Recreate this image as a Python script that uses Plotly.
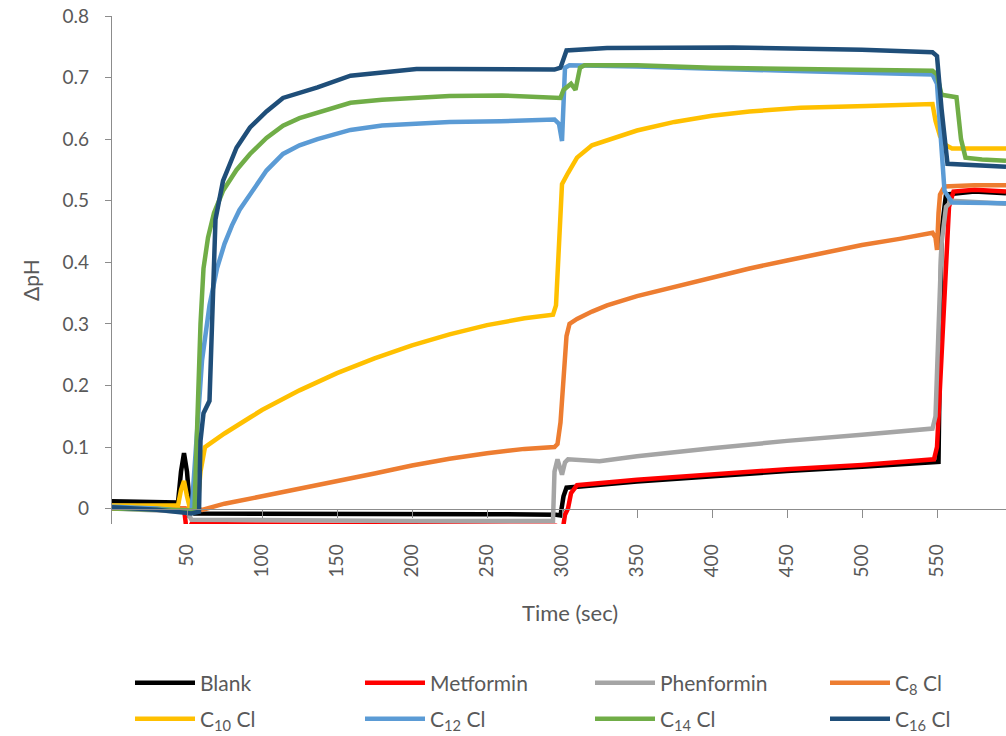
import plotly.graph_objects as go

# Time (s) and change in pH for each compound
blank_t = [0, 20, 44, 46, 48, 50, 52, 55, 100, 150, 200, 250, 296, 299, 301, 303, 350, 400, 450, 500, 550, 551, 553, 556, 575, 596]
blank_v = [0.012, 0.011, 0.010, 0.06, 0.09, 0.06, 0.0, -0.008, -0.008, -0.009, -0.008, -0.009, -0.010, -0.011, 0.02, 0.034, 0.044, 0.053, 0.061, 0.068, 0.076, 0.076, 0.45, 0.51, 0.515, 0.512]

metformin_t = [0, 48, 49, 50, 51, 53, 100, 200, 296, 299, 300, 302, 304, 306, 310, 350, 400, 450, 500, 548, 550, 553, 556, 558, 561, 575, 596]
metformin_v = [0.0, 0.0, -0.02, -0.045, -0.035, -0.025, -0.026, -0.027, -0.028, -0.03, -0.042, -0.01, 0.0, 0.025, 0.038, 0.047, 0.056, 0.064, 0.071, 0.08, 0.1, 0.25, 0.42, 0.49, 0.515, 0.518, 0.515]

phenformin_t = [0, 50, 53, 100, 200, 294, 295, 297, 299, 300, 302, 304, 325, 350, 400, 450, 500, 547, 549, 551, 553, 556, 560, 575, 596]
phenformin_v = [0.0, -0.005, -0.018, -0.019, -0.02, -0.02, 0.06, 0.08, 0.06, 0.055, 0.075, 0.08, 0.077, 0.085, 0.098, 0.11, 0.12, 0.13, 0.15, 0.3, 0.43, 0.49, 0.5, 0.498, 0.495]

c8_t = [0, 55, 60, 75, 100, 125, 150, 175, 200, 225, 250, 275, 295, 297, 299, 301, 303, 305, 310, 320, 330, 350, 375, 400, 425, 450, 475, 500, 525, 547, 549, 550, 551, 552, 555, 575, 596]
c8_v = [0.0, 0.0, -0.002, 0.008, 0.02, 0.032, 0.045, 0.057, 0.07, 0.081, 0.09, 0.097, 0.1, 0.105, 0.14, 0.22, 0.28, 0.3, 0.308, 0.32, 0.33, 0.345, 0.36, 0.375, 0.39, 0.403, 0.416, 0.428, 0.438, 0.448, 0.44, 0.42, 0.48, 0.51, 0.523, 0.525, 0.525]

c10_t = [0, 44, 46, 48, 50, 52, 57, 59, 62, 75, 92, 100, 125, 150, 175, 200, 225, 250, 275, 294, 296, 298, 300, 304, 310, 320, 338, 350, 375, 400, 425, 459, 503, 525, 547, 549, 552, 556, 560, 575, 596]
c10_v = [0.005, 0.005, 0.03, 0.045, 0.02, 0.0, 0.0, 0.06, 0.1, 0.122, 0.148, 0.16, 0.192, 0.22, 0.244, 0.265, 0.283, 0.298, 0.309, 0.315, 0.33, 0.45, 0.527, 0.545, 0.57, 0.59, 0.605, 0.614, 0.628, 0.638, 0.645, 0.651, 0.654, 0.656, 0.657, 0.63, 0.605, 0.59, 0.585, 0.585, 0.585]

c12_t = [0, 30, 53, 56, 60, 65, 70, 75, 80, 85, 92, 103, 114, 125, 137, 159, 180, 203, 225, 259, 295, 298, 300, 302, 305, 350, 400, 450, 500, 547, 550, 553, 555, 560, 575, 596]
c12_v = [0.003, 0.0, -0.005, 0.1, 0.24, 0.33, 0.39, 0.43, 0.46, 0.485, 0.511, 0.549, 0.576, 0.59, 0.60, 0.615, 0.622, 0.625, 0.628, 0.629, 0.632, 0.625, 0.597, 0.716, 0.72, 0.718, 0.714, 0.711, 0.708, 0.705, 0.69, 0.58, 0.516, 0.497, 0.497, 0.496]

c14_t = [0, 55, 57, 59, 61, 64, 68, 74, 83, 92, 103, 114, 125, 137, 159, 180, 203, 225, 260, 299, 301, 306, 309, 312, 315, 350, 400, 450, 500, 547, 550, 553, 563, 566, 569, 580, 596]
c14_v = [0.0, -0.003, 0.15, 0.3, 0.39, 0.44, 0.48, 0.516, 0.55, 0.576, 0.602, 0.622, 0.634, 0.643, 0.659, 0.664, 0.667, 0.67, 0.671, 0.667, 0.68, 0.69, 0.68, 0.716, 0.72, 0.72, 0.716, 0.714, 0.712, 0.711, 0.705, 0.672, 0.668, 0.6, 0.57, 0.567, 0.565]

c16_t = [0, 30, 53, 58, 59, 61, 65, 67, 69, 74, 83, 92, 103, 114, 137, 159, 180, 203, 225, 259, 295, 299, 303, 330, 414, 500, 547, 550, 553, 557, 575, 596]
c16_v = [0.002, -0.002, -0.008, -0.005, 0.11, 0.155, 0.175, 0.34, 0.47, 0.532, 0.586, 0.619, 0.645, 0.667, 0.684, 0.703, 0.709, 0.714, 0.714, 0.714, 0.713, 0.716, 0.744, 0.748, 0.749, 0.745, 0.741, 0.735, 0.65, 0.56, 0.557, 0.555]

x_ticks = [50, 100, 150, 200, 250, 300, 350, 400, 450, 500, 550]
y_ticks = [0, 0.1, 0.2, 0.3, 0.4, 0.5, 0.6, 0.7, 0.8]
y_tick_labels = ["0", "0.1", "0.2", "0.3", "0.4", "0.5", "0.6", "0.7", "0.8"]

series = [
    ("Blank", blank_t, blank_v, "#000000"),
    ("Metformin", metformin_t, metformin_v, "#FF0000"),
    ("Phenformin", phenformin_t, phenformin_v, "#A5A5A5"),
    ("C<sub>8</sub> Cl", c8_t, c8_v, "#ED7D31"),
    ("C<sub>10</sub> Cl", c10_t, c10_v, "#FFC000"),
    ("C<sub>12</sub> Cl", c12_t, c12_v, "#5B9BD5"),
    ("C<sub>14</sub> Cl", c14_t, c14_v, "#70AD47"),
    ("C<sub>16</sub> Cl", c16_t, c16_v, "#1F4E79"),
]

# Layout geometry (pixels)
W, H = 1006, 736
L, R, T, B = 112, 0, 16, 212
plot_w, plot_h = W - L - R, H - T - B

def px_x(px):
    return (px - L) / plot_w

def px_y(py):
    return (H - B - py) / plot_h

# Legend grid: 4 columns x 2 rows, each entry its own legend box
legend_cols = [130, 360, 590, 825]
legend_rows = [683, 719]

axis_color = "#8C8C8C"
text_color = "#595959"
font_family = "Lato"

fig = go.Figure()
legend_layouts = {}
for i, (name, t, v, color) in enumerate(series):
    key = "legend" if i == 0 else f"legend{i + 1}"
    fig.add_trace(go.Scatter(x=t, y=v, mode="lines", name=name, showlegend=True,
                             line=dict(color=color, width=4.5), legend=key))
    legend_layouts[key] = dict(
        orientation="h", x=px_x(legend_cols[i % 4]), xanchor="left",
        y=px_y(legend_rows[i // 4]), yanchor="middle", itemwidth=60,
        font=dict(size=21, color=text_color), bgcolor="rgba(0,0,0,0)")

y_min, y_max = -0.025, 0.8

fig.update_layout(
    width=W, height=H,
    showlegend=True,
    margin=dict(l=L, r=R, t=T, b=B, autoexpand=False),
    plot_bgcolor="white", paper_bgcolor="white",
    font=dict(family=font_family, color=text_color),
    xaxis=dict(
        range=[0, 596], tickvals=x_ticks, tickangle=-90,
        ticks="outside", ticklen=8, tickcolor=axis_color,
        showline=True, linecolor=axis_color, linewidth=1.3,
        showgrid=False, zeroline=False,
        anchor="free", position=(0 - y_min) / (y_max - y_min),
        tickfont=dict(size=19, color=text_color),
        ticklabelstandoff=19,
    ),
    yaxis=dict(
        range=[y_min, y_max], tickvals=y_ticks, ticktext=y_tick_labels,
        ticks="outside", ticklen=6, tickcolor=axis_color,
        showline=True, linecolor=axis_color, linewidth=1.3,
        showgrid=False, zeroline=False,
        tickfont=dict(size=19, color=text_color),
        ticklabelstandoff=12,
    ),
    annotations=[
        dict(text="ΔpH", xref="paper", yref="paper", x=px_x(30), y=px_y(280),
             textangle=-90, showarrow=False, xanchor="center", yanchor="middle",
             font=dict(size=21, color=text_color)),
        dict(text="Time (sec)", xref="paper", yref="paper", x=px_x(570), y=px_y(612),
             showarrow=False, xanchor="center", yanchor="middle",
             font=dict(size=22, color=text_color)),
    ],
    **legend_layouts,
)

fig.write_html("out.html")
